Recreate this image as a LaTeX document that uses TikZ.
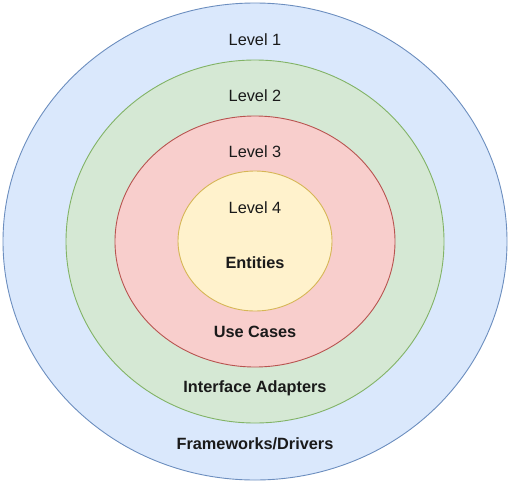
\documentclass[tikz,border=0pt]{standalone}
\usepackage{fontspec}
\setmainfont{Liberation Sans}
\usetikzlibrary{shapes.geometric}
\definecolor{bfill}{HTML}{DAE8FC}\definecolor{bdraw}{HTML}{6C8EBF}
\definecolor{gfill}{HTML}{D5E8D4}\definecolor{gdraw}{HTML}{82B366}
\definecolor{rfill}{HTML}{F8CECC}\definecolor{rdraw}{HTML}{B85450}
\definecolor{yfill}{HTML}{FFF2CC}\definecolor{ydraw}{HTML}{D6B656}
\definecolor{txt}{HTML}{1A1A1A}
\begin{document}
\begin{tikzpicture}[x=1pt,y=-1pt,
  ring/.style={ellipse,draw,line width=0.9pt,inner sep=0pt},
  lbl/.style={font=\fontsize{16.3}{18}\selectfont,text=txt,inner sep=0pt},
  bl/.style={lbl,font=\fontsize{16.3}{18}\selectfont\bfseries}]
\useasboundingbox (0,0) rectangle (511,482);
\node[ring,fill=bfill,draw=bdraw,minimum width=504pt,minimum height=477pt] (l1) at (255,241.5) {};
\node[ring,fill=gfill,draw=gdraw,minimum width=378pt,minimum height=363pt] (l2) at (255,241.5) {};
\node[ring,fill=rfill,draw=rdraw,minimum width=280pt,minimum height=251pt] (l3) at (255,241.5) {};
\node[ring,fill=yfill,draw=ydraw,minimum width=154pt,minimum height=140pt] (l4) at (255,241) {};
\node[lbl] (t1) at (255,40) {Level 1};
\node[lbl] (t2) at (255,96) {Level 2};
\node[lbl] (t3) at (255,152) {Level 3};
\node[lbl] (t4) at (255,208) {Level 4};
\node[bl] (n4) at (255,263) {Entities};
\node[bl] (n3) at (255,332) {Use Cases};
\node[bl] (n2) at (255,388) {Interface Adapters};
\node[bl] (n1) at (255,444) {Frameworks/Drivers};
\end{tikzpicture}
\end{document}
